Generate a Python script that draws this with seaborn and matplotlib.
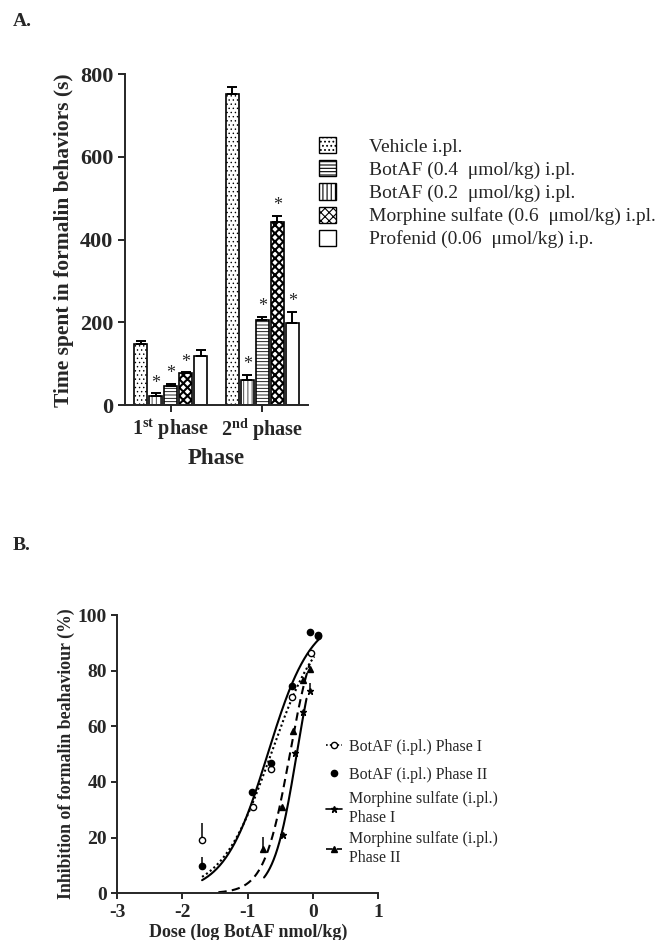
import numpy as np
import pandas as pd
import matplotlib
matplotlib.use("Agg")
import matplotlib.pyplot as plt
import seaborn as sns
from matplotlib.patches import Patch
from matplotlib.lines import Line2D

# ---------------- data : panel A ----------------
phases = ["1st phase", "2nd phase"]
phase_labels = [r"1$^{\mathbf{st}}$ phase", r"2$^{\mathbf{nd}}$ phase"]
# bar order as drawn
bar_treatments = ["Vehicle i.pl.",
                  "BotAF (0.2  \u03bcmol/kg) i.pl.",
                  "BotAF (0.4  \u03bcmol/kg) i.pl.",
                  "Morphine sulfate (0.6  \u03bcmol/kg) i.pl.",
                  "Profenid (0.06  \u03bcmol/kg) i.p."]
legend_treatments = ["Vehicle i.pl.",
                     "BotAF (0.4  \u03bcmol/kg) i.pl.",
                     "BotAF (0.2  \u03bcmol/kg) i.pl.",
                     "Morphine sulfate (0.6  \u03bcmol/kg) i.pl.",
                     "Profenid (0.06  \u03bcmol/kg) i.p."]
phase1_time = [148, 23, 47, 77, 119]
phase1_sem = [7, 6, 5, 3, 15]
phase2_time = [752, 60, 207, 442, 199]
phase2_sem = [18, 14, 7, 16, 27]
phase1_sig = [False, True, True, True, False]
phase2_sig = [False, True, True, True, True]

# ---------------- data : panel B ----------------
botaf1_dose = [-1.70, -0.92, -0.64, -0.32, -0.03, 0.08]
botaf1_inh = [19.3, 31.0, 44.5, 70.7, 86.2, 92.3]
botaf1_err = [6.0, 0, 0, 0, 0, 0]
botaf2_dose = [-1.70, -0.93, -0.65, -0.32, -0.04, 0.08]
botaf2_inh = [9.8, 36.5, 47.0, 74.6, 93.8, 93.0]
botaf2_err = [3.4, 0, 0, 0, 0, 0]
morph1_dose = [-0.46, -0.27, -0.15, -0.05]
morph1_inh = [21.0, 50.5, 65.0, 72.6]
morph1_err = [0, 0, 0, 3.0]
morph2_dose = [-0.77, -0.47, -0.30, -0.16, -0.05]
morph2_inh = [16.0, 31.0, 58.2, 76.8, 80.6]
morph2_err = [4.3, 0, 0, 0, 0]
b_labels = ["BotAF (i.pl.) Phase I", "BotAF (i.pl.) Phase II",
            "Morphine sulfate (i.pl.)\nPhase I", "Morphine sulfate (i.pl.)\nPhase II"]

# ---------------- style ----------------
sns.set_style("ticks")
plt.rcParams["font.family"] = ["Liberation Serif", "DejaVu Serif"]
plt.rcParams["mathtext.fontset"] = "custom"
plt.rcParams["mathtext.rm"] = "Liberation Serif"
plt.rcParams["mathtext.bf"] = "Liberation Serif:bold"
plt.rcParams["mathtext.it"] = "Liberation Serif:italic"
plt.rcParams["hatch.linewidth"] = 0.8
plt.rcParams["axes.linewidth"] = 1.4
plt.rcParams["axes.unicode_minus"] = False

fig = plt.figure(figsize=(6.55, 9.4), dpi=100)

# ================= Panel A =================
axA = fig.add_axes([0.191, 0.569, 0.279, 0.352])
rows = []
for t, v1, v2 in zip(bar_treatments, phase1_time, phase2_time):
    rows.append({"phase": phases[0], "treatment": t, "time": v1})
    rows.append({"phase": phases[1], "treatment": t, "time": v2})
dfA = pd.DataFrame(rows)
sns.barplot(data=dfA, x="phase", y="time", hue="treatment", hue_order=bar_treatments,
            order=phases, palette=["white"] * 5, edgecolor="black", linewidth=1.2,
            errorbar=None, width=0.82, gap=0.15, ax=axA, legend=False)

hatches = {bar_treatments[0]: "....", bar_treatments[1]: "||||",
           bar_treatments[2]: "-----", bar_treatments[3]: "xxxx", bar_treatments[4]: ""}
hatch_lw = {bar_treatments[0]: 0.5, bar_treatments[1]: 0.5,
            bar_treatments[2]: 0.6, bar_treatments[3]: 1.5, bar_treatments[4]: 0.8}
sems = list(zip(phase1_sem, phase2_sem))
sigs = list(zip(phase1_sig, phase2_sig))
bar_containers = list(axA.containers)
for ti, cont in enumerate(bar_containers):
    t = bar_treatments[ti]
    xs, hs = [], []
    for pi, p in enumerate(cont.patches):
        p.set_hatch(hatches[t])
        if hasattr(p, "set_hatch_linewidth"):
            p.set_hatch_linewidth(hatch_lw[t])
        xs.append(p.get_x() + p.get_width() / 2)
        hs.append(p.get_height())
    errs = sems[ti]
    axA.errorbar(xs, hs, yerr=[[0, 0], list(errs)], fmt="none", ecolor="black",
                 elinewidth=1.4, capsize=3.5, capthick=1.4, zorder=3)
    for pi in range(2):
        if sigs[ti][pi]:
            axA.annotate("*", (xs[pi], hs[pi] + errs[pi]), xytext=(0, 1),
                         textcoords="offset points", ha="center", va="bottom",
                         fontsize=13)

axA.set_ylim(0, 800)
axA.set_xlim(-0.5, 1.5)
axA.set_yticks([0, 200, 400, 600, 800])
axA.set_xticks([0, 1], labels=phase_labels)
axA.tick_params(axis="y", labelsize=16, width=1.4, length=5)
axA.tick_params(axis="x", labelsize=14.5, width=1.4, length=5)
for lab in axA.get_xticklabels() + axA.get_yticklabels():
    lab.set_fontweight("bold")
axA.set_ylabel("Time spent in formalin behaviors (s)", fontsize=15.5, fontweight="bold", labelpad=4)
axA.set_xlabel("Phase", fontsize=16.5, fontweight="bold", labelpad=3)
sns.despine(ax=axA)

legA_handles = []
for t in legend_treatments:
    h = Patch(facecolor="white", edgecolor="black", hatch=hatches[t], linewidth=1.0)
    if hasattr(h, "set_hatch_linewidth"):
        h.set_hatch_linewidth(hatch_lw[t])
    legA_handles.append(h)
fig.legend(legA_handles, legend_treatments, loc="upper left",
           bbox_to_anchor=(0.487, 0.854), frameon=False, fontsize=14,
           handlelength=0.9, handleheight=0.9, handletextpad=1.65,
           labelspacing=0.22, borderpad=0, borderaxespad=0)

fig.text(0.02, 0.977, "A.", fontsize=14, fontweight="bold", va="center")
fig.text(0.02, 0.42, "B.", fontsize=14, fontweight="bold", va="center")

# ================= Panel B =================
axB = fig.add_axes([0.179, 0.0497, 0.3985, 0.296])


def hill_fit(x, y):
    x = np.asarray(x, float)
    y = np.asarray(y, float)
    ec = np.arange(-1.5, 0.5, 0.005)
    hh = np.arange(0.3, 5.0, 0.01)
    E, H = np.meshgrid(ec, hh, indexing="ij")
    pred = 100.0 / (1.0 + 10.0 ** ((E[..., None] - x) * H[..., None]))
    sse = ((pred - y) ** 2).sum(-1)
    i = np.unravel_index(sse.argmin(), sse.shape)
    return E[i], H[i]


series = [
    (botaf1_dose, botaf1_inh, botaf1_err, (-1.70, 0.02), (0, (1, 1.3)), "o", "white", 4.5),
    (botaf2_dose, botaf2_inh, botaf2_err, (-1.70, 0.10), "-", "o", "black", 4.5),
    (morph1_dose, morph1_inh, morph1_err, (-0.75, -0.10), "-", "*", "black", 5),
    (morph2_dose, morph2_inh, morph2_err, (-1.45, -0.05), (0, (4, 2.5)), "^", "black", 4.2),
]
legB_handles = []
for k, (dx, dy, de, rng, ls, mk, fc, ms) in enumerate(series):
    ec50, h = hill_fit(dx, dy)
    xc = np.linspace(rng[0], rng[1], 200)
    yc = 100.0 / (1.0 + 10.0 ** ((ec50 - xc) * h))
    sns.lineplot(x=xc, y=yc, ax=axB, color="black", linestyle=ls, linewidth=1.5)
    axB.errorbar(dx, dy, yerr=[np.zeros(len(de)), de], fmt=mk, mfc=fc, mec="black",
                 ms=ms, mew=1.0, ecolor="black", elinewidth=1.1, capsize=0, zorder=4)
    if k == 1:
        legB_handles.append(Line2D([], [], linestyle="none", marker=mk, mfc=fc, mec="black", ms=4.5))
    else:
        legB_handles.append(Line2D([], [], color="black", linestyle=ls, linewidth=1.2,
                                   marker=mk, mfc=fc, mec="black", ms=4.5))

axB.set_xlim(-3, 1)
axB.set_ylim(0, 100)
axB.set_xticks([-3, -2, -1, 0, 1])
axB.set_yticks([0, 20, 40, 60, 80, 100])
axB.tick_params(axis="both", labelsize=14, width=1.4, length=4)
for lab in axB.get_xticklabels() + axB.get_yticklabels():
    lab.set_fontweight("bold")
axB.set_ylabel("Inhibition of formalin beahaviour (%)", fontsize=12.8, fontweight="bold", labelpad=2)
axB.set_xlabel("Dose (log BotAF nmol/kg)", fontsize=13, fontweight="bold", labelpad=2)
sns.despine(ax=axB)

legB1 = fig.legend(legB_handles[:2], b_labels[:2], loc="upper left", bbox_to_anchor=(0.497, 0.214),
                   frameon=False, fontsize=11.5, handlelength=1.0, handletextpad=0.5,
                   labelspacing=0.75, borderpad=0, borderaxespad=0)
legB2 = fig.legend(legB_handles[2:], b_labels[2:], loc="upper left", bbox_to_anchor=(0.497, 0.1585),
                   frameon=False, fontsize=11.5, handlelength=1.0, handletextpad=0.5,
                   labelspacing=0.3, borderpad=0, borderaxespad=0)
for txt in legB2.get_texts():
    txt.set_linespacing(1.25)

fig.savefig("out.png", dpi=100)
